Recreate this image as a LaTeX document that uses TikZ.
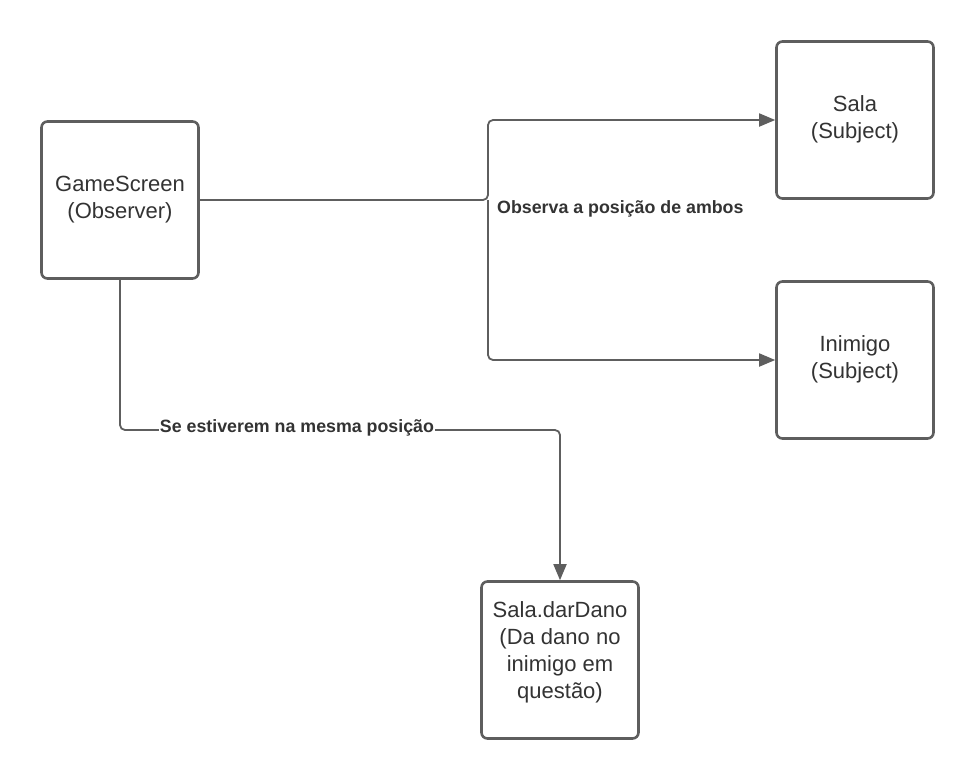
\documentclass[tikz,border=0pt]{standalone}
\usepackage{fontspec}
\setmainfont{Liberation Sans}
\usetikzlibrary{arrows.meta}
\definecolor{linegray}{HTML}{5E5E5E}
\definecolor{textgray}{HTML}{333333}
\begin{document}
\begin{tikzpicture}[x=1pt,y=-1pt,
  box/.style={draw=linegray, line width=2.6pt, rounded corners=6pt, fill=white,
    minimum width=157pt, minimum height=157pt, inner sep=0pt, align=center,
    text=textgray, font=\fontsize{22}{27}\selectfont},
  conn/.style={draw=linegray, line width=1.8pt, rounded corners=5pt},
  arr/.style={-{Triangle[length=16pt,width=13pt]}},
  lbl/.style={text=textgray, font=\bfseries\fontsize{17.8}{21}\selectfont, inner sep=1pt}]
\useasboundingbox (0,0) rectangle (975,780);
\node[box] (gs) at (120,200) {GameScreen\\(Observer)};
\node[box] (sala) at (855,120) {Sala\\(Subject)\\[-21pt]};
\node[box] (ini) at (855,360) {Inimigo\\(Subject)\\[-21pt]};
\node[box] (dd) at (560,660) {Sala.darDano\\(Da dano no\\inimigo em\\questão)\\[-7pt]};
\coordinate (j1) at (488,200);
\coordinate (k) at (560,430);
\draw[conn,arr] (gs.east) -- (j1) |- (sala.west);
\draw[conn,arr] (j1) |- (ini.west);
\draw[conn,arr] (gs.south) |- (k) -- (dd.north);
\node[lbl, anchor=west] (l1) at (496,209) {Observa a posição de ambos};
\node[lbl, fill=white] (l2) at (297,428) {Se estiverem na mesma posição};
\end{tikzpicture}
\end{document}
